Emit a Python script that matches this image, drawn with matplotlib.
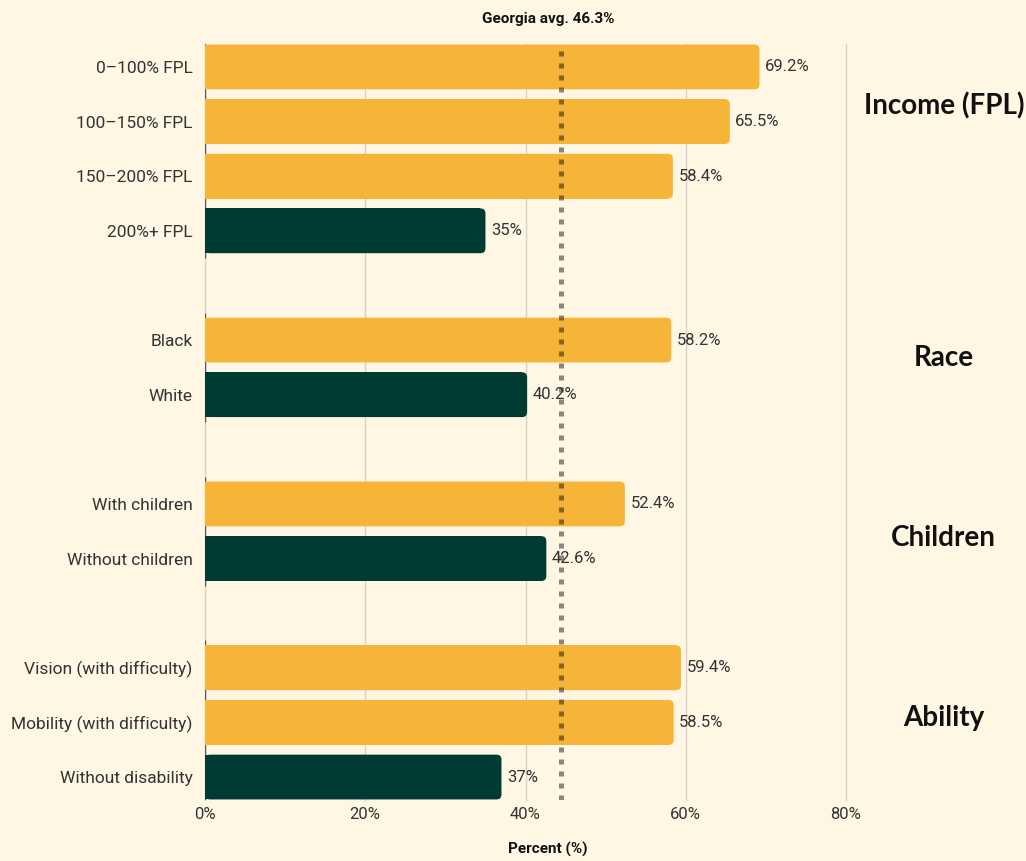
import numpy as np
import matplotlib.pyplot as plt
from matplotlib.patches import FancyBboxPatch

plt.rcParams['font.family'] = ['Roboto', 'DejaVu Sans']

# data
labels = ["0–100% FPL", "100–150% FPL", "150–200% FPL", "200%+ FPL",
          "Black", "White",
          "With children", "Without children",
          "Vision (with difficulty)", "Mobility (with difficulty)", "Without disability"]
values = [69.2, 65.5, 58.4, 35, 58.2, 40.2, 52.4, 42.6, 59.4, 58.5, 37]
group_names = ["Income (FPL)", "Race", "Children", "Ability"]
group_sizes = [4, 2, 2, 3]
group_label_offset = [0.72, 0.32, 0.63, 0.91]  # rows below group start
avg_line = 44.4
avg_text = "Georgia avg. 46.3%"

BG = '#FFF6E4'
YELLOW = '#F6B538'
GREEN = '#003B33'
TXT = '#333333'

# row positions, one blank row between groups
pos = []
starts = []
r = 0
for n in group_sizes:
    starts.append(r)
    pos += list(range(r, r + n))
    r += n + 1
pos = np.array(pos, dtype=float)
colors = []
for n in group_sizes:
    colors += [YELLOW] * (n - 1) + [GREEN]

fig = plt.figure(figsize=(10.26, 8.61), dpi=100, facecolor=BG)
ax = fig.add_axes([205/1026, 1 - 800/861, 641/1026, 756/861])
ax.set_facecolor(BG)

bh = 0.82
rad = 0.62
asp = 0.092 / rad
for y, v, c in zip(pos, values, colors):
    ax.barh(y, v - rad, height=bh, color=c, zorder=2)
    p = FancyBboxPatch((0, y - bh/2), v, bh,
                       boxstyle=f"round,pad=0,rounding_size={rad}",
                       mutation_aspect=asp, fc=c, ec='none', zorder=2)
    ax.add_patch(p)
    txt = f"{v:g}%"
    ax.annotate(txt, (v, y), xytext=(4, 0), textcoords='offset points',
                va='center', ha='left', fontsize=12, color=TXT, zorder=4)

# left spine pieces per group
for s, n in zip(starts, group_sizes):
    ax.vlines(0, s - 0.5, s + n - 0.5, color='#555555', lw=1, zorder=1)

# group labels
for s, name, off in zip(starts, group_names, group_label_offset):
    ax.text(92.2, s + off, name, ha='center', va='center', fontsize=20,
            fontweight='bold', family=['Lato', 'DejaVu Sans'], color='#111111',
            clip_on=False)

ax.axvline(avg_line, ymin=0, ymax=1.0, color='black', alpha=0.45, lw=3.6,
           linestyle=(0, (1, 1.4)), dash_capstyle='butt', zorder=3)
fig.text(548/1026, 1 - 19/861, avg_text, ha='center', va='center',
         fontsize=11, fontweight='bold', color='#111111')
fig.text(548/1026, 1 - 849/861, "Percent (%)", ha='center', va='center',
         fontsize=11, fontweight='bold', color='#111111')

ax.set_xlim(0, 80)
ax.set_ylim(pos[-1] + 0.42, -0.42)
ax.set_xticks([0, 20, 40, 60, 80])
ax.set_xticklabels(["0%", "20%", "40%", "60%", "80%"])
ax.set_yticks(pos)
ax.set_yticklabels(labels)
ax.tick_params(axis='both', length=0, labelcolor=TXT)
ax.tick_params(axis='y', pad=9, labelsize=12.5)
ax.tick_params(axis='x', pad=5, labelsize=12)
ax.grid(axis='x', color='#DCD2C2', lw=1.0, zorder=0)
for gl in ax.get_xgridlines():
    gl.set_clip_on(False)
ax.set_axisbelow(True)
for sp in ax.spines.values():
    sp.set_visible(False)

fig.savefig('out.png', dpi=100, facecolor=BG)
